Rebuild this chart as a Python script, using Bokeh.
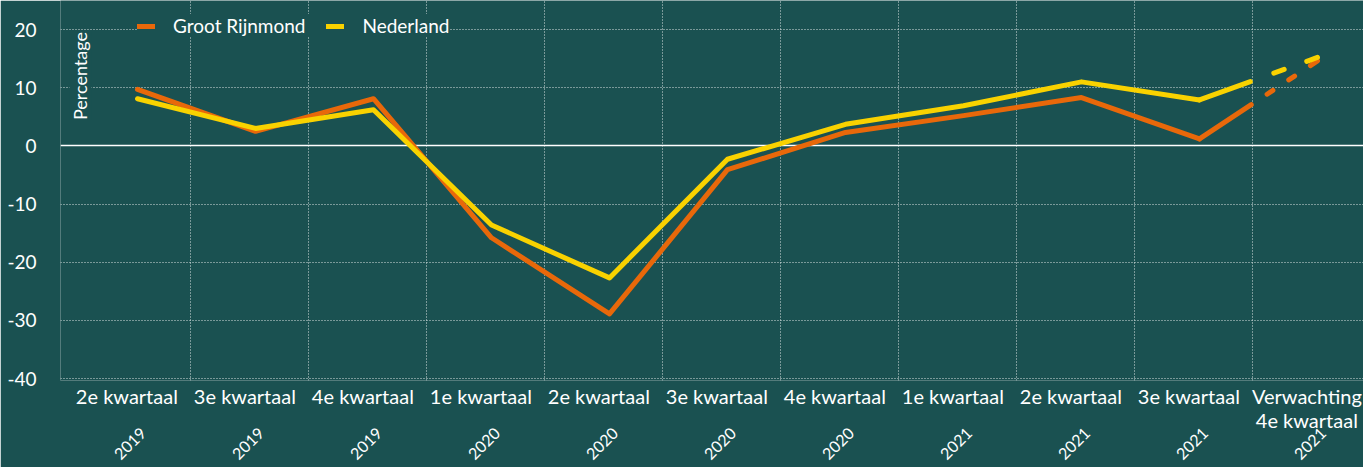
from math import pi
from bokeh.plotting import figure
from bokeh.models import (ColumnDataSource, FixedTicker, LinearAxis, Grid, Label,
                          Legend, LegendItem, Range1d)
from bokeh.embed import file_html
from bokeh.resources import INLINE

# ---------------- data ----------------
quarters = ["2e kwartaal", "3e kwartaal", "4e kwartaal", "1e kwartaal", "2e kwartaal",
            "3e kwartaal", "4e kwartaal", "1e kwartaal", "2e kwartaal", "3e kwartaal",
            "Verwachting\n4e kwartaal"]
years = ["2019", "2019", "2019", "2020", "2020", "2020", "2020", "2021", "2021", "2021", "2021"]
groot_rijnmond = [9.7, 2.5, 8.1, -15.8, -28.9, -4.1, 2.3, 5.2, 8.3, 1.2, 14.6]
nederland = [8.1, 3.0, 6.2, -13.6, -22.7, -2.3, 3.7, 6.9, 11.0, 7.9, 15.2]
y_ticks = [-40, -30, -20, -10, 0, 10, 20]
y_tick_labels = ["-40", "-30", "-20", "-10", "0", "10", "20"]
series_names = ["Groot Rijnmond", "Nederland"]

# ---------------- style ----------------
BG = "#1a5151"
ORANGE = "#e8680a"
YELLOW = "#f9d200"
FONT = "Lato"
TXT = "#ffffff"
GRID = "#d8e2e2"

n = len(quarters)
x = list(range(n))
x_lo, x_hi = -0.6525, 10.39
grid_lo = -0.5

p = figure(width=1363, height=467, output_backend="svg", toolbar_location=None,
           x_range=Range1d(x_lo, x_hi), y_range=Range1d(-40.34, 24.99),
           min_border_left=60, min_border_right=0, min_border_top=0, min_border_bottom=87)
p.background_fill_color = BG
p.border_fill_color = BG
p.outline_line_color = None

# grids
p.ygrid.ticker = FixedTicker(ticks=[t for t in y_ticks if t != 0])
p.ygrid.grid_line_color = GRID
p.ygrid.grid_line_dash = "1 2"
p.ygrid.grid_line_width = 1
p.ygrid.bounds = (grid_lo, x_hi)
p.xgrid.ticker = FixedTicker(ticks=[i + 0.45 for i in range(n - 1)])
p.xgrid.grid_line_color = GRID
p.xgrid.grid_line_dash = "1 2"
p.xgrid.grid_line_width = 1
p.xgrid.bounds = (y_ticks[0], y_ticks[-1])
p.add_layout(Grid(dimension=1, ticker=FixedTicker(ticks=[0]), bounds=(grid_lo, x_hi),
                  grid_line_color="white", grid_line_width=1.6))

# y axis
ya = p.yaxis[0]
ya.ticker = FixedTicker(ticks=y_ticks)
ya.major_label_overrides = {t: l for t, l in zip(y_ticks, y_tick_labels)}
ya.axis_line_color = None
ya.major_tick_line_color = None
ya.minor_tick_line_color = None
ya.major_label_text_font = FONT
ya.major_label_text_font_size = "19px"
ya.major_label_text_color = TXT
ya.major_label_standoff = 18

# x axis: quarters
xa = p.xaxis[0]
q_ticks = [i - 0.09 for i in x]
xa.ticker = FixedTicker(ticks=q_ticks)
xa.major_label_overrides = {t: l for t, l in zip(q_ticks, quarters)}
xa.axis_line_color = None
xa.major_tick_line_color = None
xa.minor_tick_line_color = None
xa.major_label_text_font = FONT
xa.major_label_text_font_size = "20px"
xa.major_label_text_line_height = 1.0
xa.major_label_text_color = TXT
xa.major_label_standoff = -3

# x axis: years (rotated)
y_ticks_x = [i + 0.05 for i in x]
ya2 = LinearAxis(ticker=FixedTicker(ticks=y_ticks_x),
                 major_label_overrides={t: l for t, l in zip(y_ticks_x, years)},
                 axis_line_color=None, major_tick_line_color=None, minor_tick_line_color=None,
                 major_label_text_font=FONT, major_label_text_font_size="16px",
                 major_label_text_color=TXT, major_label_standoff=-10,
                 major_label_orientation=pi / 4)
p.add_layout(ya2, "below")

# lines
solid = ColumnDataSource(dict(x=x[:-1], gr=groot_rijnmond[:-1], nl=nederland[:-1]))
fc = ColumnDataSource(dict(x=x[-2:], gr=groot_rijnmond[-2:], nl=nederland[-2:]))

r_gr = p.line("x", "gr", source=solid, line_color=ORANGE, line_width=5,
              line_cap="round", line_join="round")
p.line("x", "gr", source=fc, line_color=ORANGE, line_width=5, line_cap="round",
       line_dash="62 19 7 19 7 19 30")
r_nl = p.line("x", "nl", source=solid, line_color=YELLOW, line_width=5,
              line_cap="round", line_join="round")
p.line("x", "nl", source=fc, line_color=YELLOW, line_width=5, line_cap="round",
       line_dash="54 25 11 24 30")

legend = Legend(items=[LegendItem(label=series_names[0], renderers=[r_gr]),
                       LegendItem(label=series_names[1], renderers=[r_nl])],
                orientation="horizontal", location=(77, 343),
                background_fill_color=BG, background_fill_alpha=1,
                border_line_color=None, padding=12, spacing=21,
                glyph_width=18, glyph_height=20, label_standoff=18,
                label_text_font=FONT, label_text_font_size="19px",
                label_text_color=TXT, margin=0)
p.add_layout(legend, "center")

p.add_layout(Label(x=grid_lo, y=12, x_offset=-9, text="Percentage", angle=pi / 2,
                   text_align="center", text_baseline="top", text_font=FONT,
                   text_font_size="18px", text_color=TXT,
                   background_fill_color=BG))

open("out.html", "w").write(file_html(p, INLINE))
